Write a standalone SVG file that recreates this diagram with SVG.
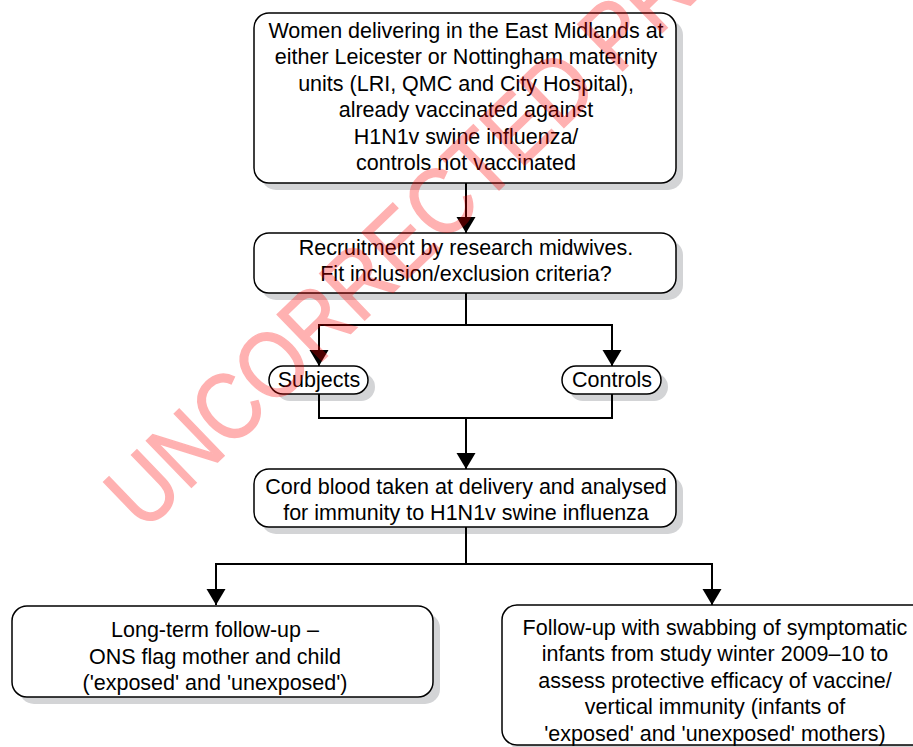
<svg xmlns="http://www.w3.org/2000/svg" width="913" height="747" viewBox="0 0 913 747">
<defs>
<style>
.box{fill:#fff;stroke:#000;stroke-width:1.5}
.sh{fill:#d3d4d6}
.t{font-family:"Liberation Sans",Arial,Helvetica,sans-serif;font-size:21.5px;text-anchor:middle;fill:#000}
.c{fill:none;stroke:#000;stroke-width:2}
.wm{font-family:"Liberation Sans",Arial,Helvetica,sans-serif;font-size:94px;fill:#ff0000;stroke:#ff0000;stroke-width:1.5}
</style>
<marker id="ah" markerUnits="userSpaceOnUse" markerWidth="17" markerHeight="20" refX="16" refY="9.5" orient="auto">
<path d="M0,0 L16,9.5 L0,19 z" fill="#000"/>
</marker>
</defs>
<rect width="913" height="747" fill="#fff"/>

<g id="n1">
<rect class="sh" x="261" y="20" width="422" height="170" rx="15"/>
<rect class="box" x="254" y="13" width="422" height="170" rx="15"/>
<text class="t" x="466" y="37.5">Women delivering in the East Midlands at</text>
<text class="t" x="466" y="64">either Leicester or Nottingham maternity</text>
<text class="t" x="466" y="90.5">units (LRI, QMC and City Hospital),</text>
<text class="t" x="466" y="117">already vaccinated against</text>
<text class="t" x="466" y="143.5">H1N1v swine influenza/</text>
<text class="t" x="466" y="170">controls not vaccinated</text>
</g>

<g id="n2">
<rect class="sh" x="261" y="240" width="422" height="60" rx="15"/>
<rect class="box" x="254" y="233" width="422" height="60" rx="15"/>
<text class="t" x="466" y="254.5">Recruitment by research midwives.</text>
<text class="t" x="466" y="281">Fit inclusion/exclusion criteria?</text>
</g>

<g id="n3">
<rect class="sh" x="276" y="373" width="99" height="28" rx="14"/>
<rect class="box" x="269" y="366" width="99" height="28" rx="14"/>
<text class="t" x="319" y="387">Subjects</text>
</g>

<g id="n4">
<rect class="sh" x="569" y="373" width="99" height="28" rx="14"/>
<rect class="box" x="562" y="366" width="99" height="28" rx="14"/>
<text class="t" x="612" y="387">Controls</text>
</g>

<g id="n5">
<rect class="sh" x="261" y="476" width="422" height="58" rx="15"/>
<rect class="box" x="254" y="469" width="422" height="58" rx="15"/>
<text class="t" x="466" y="493.5">Cord blood taken at delivery and analysed</text>
<text class="t" x="466" y="520">for immunity to H1N1v swine influenza</text>
</g>

<g id="n6">
<rect class="sh" x="19" y="613" width="421" height="91" rx="15"/>
<rect class="box" x="12" y="606" width="421" height="91" rx="15"/>
<text class="t" x="215" y="637">Long-term follow-up –</text>
<text class="t" x="215" y="663.5">ONS flag mother and child</text>
<text class="t" x="215" y="690">('exposed' and 'unexposed')</text>
</g>

<g id="n7">
<rect class="sh" x="509" y="612" width="430" height="140" rx="15"/>
<rect class="box" x="502" y="605" width="430" height="140" rx="15"/>
<text class="t" x="715" y="634.5">Follow-up with swabbing of symptomatic</text>
<text class="t" x="715" y="661">infants from study winter 2009–10 to</text>
<text class="t" x="715" y="687.5">assess protective efficacy of vaccine/</text>
<text class="t" x="715" y="714">vertical immunity (infants of</text>
<text class="t" x="715" y="740.5">'exposed' and 'unexposed' mothers)</text>
</g>

<g id="connectors">
<path class="c" d="M466,183 V233" marker-end="url(#ah)"/>
<path class="c" d="M466,293 V325 H319 V366" marker-end="url(#ah)"/>
<path class="c" d="M466,325 H612 V366" marker-end="url(#ah)"/>
<path class="c" d="M319,394 V418 H612 V394"/>
<path class="c" d="M466,418 V469" marker-end="url(#ah)"/>
<path class="c" d="M466,527 V564 H216 V605" marker-end="url(#ah)"/>
<path class="c" d="M466,564 H712 V605" marker-end="url(#ah)"/>
</g>

<g id="watermark" opacity="0.3">
<text class="wm" transform="translate(144,533) rotate(-44) scale(0.87,1)">UNCORRECTED PROOF</text>
</g>
</svg>
